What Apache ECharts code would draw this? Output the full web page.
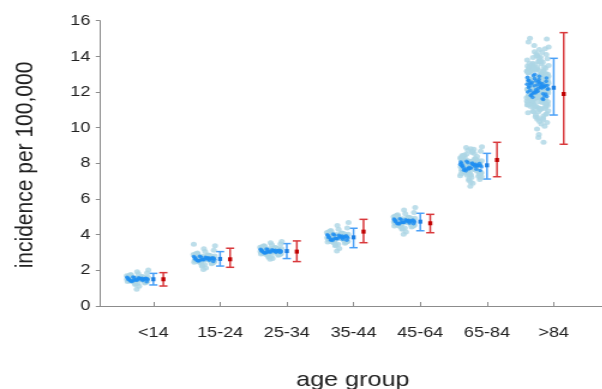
<!DOCTYPE html>
<html>
<head>
<meta charset="utf-8">
<script src="https://cdn.jsdelivr.net/npm/echarts@6/dist/echarts.min.js"></script>
<style>
  html, body { margin: 0; padding: 0; background: #fff; overflow: hidden; }
  /* drawn on a narrower canvas and widened, giving the wide-set lettering */
  #chart { width: 502px; height: 389px; transform: scaleX(1.2); transform-origin: 0 0; }
</style>
</head>
<body>
<div id="chart"></div>
<script>
// ---- data ----------------------------------------------------------------
const ageGroups = ['<14', '15-24', '25-34', '35-44', '45-64', '65-84', '>84'];
const yTicks = [0, 2, 4, 6, 8, 10, 12, 14, 16];

// simulated incidence draws (light) per age group
const simU14 = [1.52,1.38,1.61,1.47,1.73,1.29,1.55,1.44,1.66,1.50,1.35,1.81,1.58,1.42,1.21,1.69,1.49,1.57,1.33,1.92,1.46,1.62,1.53,1.40,1.11,1.76,1.48,1.59,1.37,1.64,1.45,1.54,1.27,1.71,1.51,1.43,2.02,1.60,1.39,1.56,0.94,1.67,1.47,1.34,1.85,1.53,1.41,1.63,1.25,1.50];
const sim15 = [2.66,2.48,2.81,2.59,2.92,2.37,2.70,2.55,2.86,2.63,2.44,3.05,2.74,2.52,2.25,2.89,2.61,2.77,2.41,3.21,2.57,2.83,2.68,2.50,2.13,2.97,2.64,2.79,2.46,2.85,2.58,2.72,2.33,2.94,2.67,2.53,3.38,2.80,2.49,2.75,2.04,2.88,2.60,2.43,3.12,2.69,2.51,2.82,2.29,3.47];
const sim25 = [3.10,2.94,3.23,3.02,3.33,2.84,3.14,2.98,3.28,3.07,2.90,3.44,3.17,2.96,2.74,3.30,3.05,3.20,2.87,3.55,3.00,3.25,3.11,2.93,2.66,3.38,3.08,3.21,2.91,3.27,3.01,3.15,2.80,3.35,3.09,2.97,3.62,3.22,2.92,3.18,2.62,3.29,3.04,2.88,3.48,3.12,2.95,3.24,2.77,3.06];
const sim35 = [3.87,3.66,4.03,3.78,4.15,3.52,3.91,3.72,4.09,3.84,3.60,4.31,3.96,3.69,3.38,4.12,3.81,3.99,3.57,4.52,3.75,4.06,3.89,3.63,3.22,4.24,3.85,4.01,3.59,4.08,3.77,3.94,3.46,4.19,3.86,3.70,4.68,4.02,3.61,3.97,3.08,4.14,3.80,3.55,4.38,3.90,3.67,4.05,3.42,3.83];
const sim45 = [4.76,4.57,4.92,4.68,5.03,4.43,4.80,4.62,4.98,4.73,4.50,5.18,4.85,4.59,4.30,5.01,4.71,4.88,4.47,5.38,4.65,4.95,4.78,4.54,4.15,5.12,4.74,4.90,4.49,4.97,4.67,4.83,4.37,5.07,4.75,4.60,5.52,4.91,4.52,4.86,4.02,5.03,4.70,4.45,5.24,4.79,4.56,4.94,4.33,4.72];
const sim65 = [7.87,7.52,8.15,7.70,8.36,7.28,7.93,7.61,8.27,7.83,7.44,8.61,8.02,7.56,7.05,8.31,7.78,8.08,7.38,8.82,7.66,8.20,7.90,7.49,6.88,8.47,7.85,8.11,7.41,8.24,7.74,7.98,7.21,8.40,7.88,7.58,8.93,8.13,7.46,8.05,6.72,8.33,7.76,7.33,8.68,7.95,7.54,8.18,7.14,7.81,8.55,7.63,7.99,7.35,8.22,7.68,8.74,7.25,8.09,7.80,
  7.91,7.47,8.29,7.66,8.52,7.19,7.97,7.59,8.38,7.79,7.31,8.79,8.06,7.53,6.95,8.44,7.72,8.16,7.43,8.66,7.84,8.01,7.37,8.25,7.64,8.89,7.10,8.12,7.57,7.93];
const sim85 = [12.21,11.62,12.88,11.95,13.31,11.07,12.43,11.78,13.05,12.12,11.34,13.72,12.60,11.55,10.62,13.18,12.01,12.71,11.21,14.05,11.85,12.95,12.33,11.46,10.35,13.48,12.18,12.80,11.28,13.02,11.90,12.52,10.88,13.40,12.25,11.70,14.52,12.92,11.40,12.66,9.93,13.25,12.05,11.15,13.86,12.47,11.58,12.99,10.71,12.15,
  13.58,11.82,12.58,11.12,13.12,11.98,14.26,10.95,12.76,12.09,
  12.38,11.66,13.09,11.88,13.44,10.79,12.55,11.73,13.21,12.27,11.49,13.95,12.70,11.60,10.48,13.36,12.03,12.84,11.25,14.38,11.93,12.97,12.40,11.43,10.21,13.62,12.19,12.63,11.31,13.15,11.99,12.49,10.99,13.51,12.31,11.76,14.80,12.86,11.37,12.74,9.62,13.28,12.11,11.18,13.79,12.45,11.52,13.03,10.57,12.23,
  13.67,11.80,12.61,11.09,13.17,11.96,14.15,10.84,12.79,12.07,
  14.98,9.45,15.02,9.18,12.35,11.68,12.90,11.87,13.33,12.14,
  12.56,11.41,13.27,12.02,13.89,11.19,12.68,11.87,13.46,12.29,10.92,14.11,12.81,11.63,10.44,13.54,12.13,12.94,11.33,14.43,11.91,13.07,12.48,11.51,10.29,13.70,12.36,12.87,11.24,13.16,12.04,12.62,10.76,13.38,12.44,11.79,14.61,13.00,11.45,12.72,
  10.08,13.23,12.17,11.06,13.93,12.53,11.69,13.11,10.66,12.26,13.49,11.84,12.64,11.16,13.29,12.06,14.22,10.90,12.83,12.19,11.57,13.41,12.39,11.27,13.76,12.00,12.91,11.72,13.60,10.53,12.50,11.94,13.19,12.32,11.38,14.02,12.77,11.61,13.35,12.10];

// point estimates (dark) per age group
const estU14 = [1.49,1.55,1.44,1.52,1.58,1.41,1.50,1.47,1.61,1.53,1.38,1.56,1.46,1.51,1.43,1.59,1.48,1.54,1.40,1.52,1.45,1.57,1.50,1.63,1.36];
const est15 = [2.64,2.70,2.58,2.67,2.73,2.55,2.65,2.61,2.77,2.68,2.52,2.71,2.60,2.66,2.57,2.75,2.62,2.69,2.54,2.67,2.59,2.72,2.63,2.79,2.50];
const est25 = [3.07,3.12,3.02,3.09,3.15,2.99,3.08,3.04,3.18,3.10,2.97,3.13,3.03,3.08,3.01,3.16,3.05,3.11,2.98,3.09,3.03,3.14,3.06,3.19,3.00];
const est35 = [3.84,3.92,3.76,3.87,3.97,3.70,3.85,3.80,4.00,3.89,3.67,3.94,3.78,3.86,3.74,3.98,3.81,3.90,3.72,3.88,3.77,3.95,3.83,4.03,3.69];
const est45 = [4.74,4.80,4.67,4.77,4.84,4.62,4.75,4.70,4.87,4.78,4.60,4.82,4.68,4.76,4.65,4.85,4.71,4.79,4.63,4.77,4.69,4.83,4.73,4.89,4.61];
const est65 = [7.84,7.95,7.70,7.88,8.02,7.62,7.86,7.78,8.07,7.91,7.58,7.99,7.74,7.87,7.67,8.04,7.80,7.93,7.64,7.89,7.72,8.00,7.82,8.12,7.60,7.97,7.76,7.85,7.69,7.94];
const est85 = [12.25,12.48,11.98,12.36,12.70,11.80,12.30,12.12,12.82,12.41,11.70,12.60,12.05,12.33,11.90,12.75,12.18,12.52,11.84,12.38,12.02,12.65,12.22,12.93,11.75,12.57,12.09,12.29,11.95,12.44,
  12.27,12.54,11.88,12.40,12.66,11.62,12.35,12.15,12.88,12.46,11.78,12.62,12.00,12.31,11.93,12.79,12.20,12.50,11.58,12.99];

// model interval (blue) and observed interval (red)
const modelMean = [1.50, 2.64, 3.08, 3.85, 4.73, 7.89, 12.24];
const modelLow  = [1.18, 2.24, 2.66, 3.27, 4.22, 7.12, 10.71];
const modelHigh = [1.83, 3.05, 3.50, 4.36, 5.20, 8.56, 13.89];
const obsMean = [1.50, 2.62, 3.05, 4.17, 4.64, 8.19, 11.89];
const obsLow  = [1.12, 2.17, 2.49, 3.55, 4.11, 7.25, 9.07];
const obsHigh = [1.87, 3.24, 3.65, 4.86, 5.14, 9.18, 15.33];

// ---- layout ----------------------------------------------------------------
const simGroups = [simU14, sim15, sim25, sim35, sim45, sim65, sim85];
const estGroups = [estU14, est15, est25, est35, est45, est65, est85];
const CLOUD_SHIFT = -0.24;   // cloud sits left of the category tick
const CLOUD_HALF = 0.165;    // half width of the jitter band
const OBS_SHIFT = 0.15;      // observed interval sits right of the tick

// even, repeatable spread across the jitter band
function spread(i, seed) {
  const f = ((i + 1) * 0.6180339887 + seed) % 1;
  return f * 2 - 1;
}
function cloud(groups, seed) {
  const pts = [];
  groups.forEach((vals, g) => {
    vals.forEach((v, i) => {
      pts.push([g + 1 + CLOUD_SHIFT + spread(i, seed) * CLOUD_HALF, v]);
    });
  });
  return pts;
}
function intervals(mean, lo, hi, shift) {
  return mean.map((m, g) => [g + 1 + shift, lo[g], hi[g], m]);
}
function intervalRenderer(lineColor, markColor) {
  return function (params, api) {
    const x = api.value(0);
    const top = api.coord([x, api.value(2)]);
    const bot = api.coord([x, api.value(1)]);
    const mid = api.coord([x, api.value(3)]);
    const cap = 3.4;
    const ls = { stroke: lineColor, lineWidth: 1.5 };
    return {
      type: 'group',
      children: [
        { type: 'line', shape: { x1: top[0], y1: top[1], x2: bot[0], y2: bot[1] }, style: ls },
        { type: 'line', shape: { x1: top[0] - cap, y1: top[1], x2: top[0] + cap, y2: top[1] }, style: ls },
        { type: 'line', shape: { x1: bot[0] - cap, y1: bot[1], x2: bot[0] + cap, y2: bot[1] }, style: ls },
        { type: 'rect', shape: { x: mid[0] - 1.7, y: mid[1] - 2, width: 3.4, height: 4 }, style: { fill: markColor } }
      ]
    };
  };
}

const FONT = '"Liberation Sans", Arial, Helvetica, sans-serif';
const chart = echarts.init(document.getElementById('chart'), null, { renderer: 'canvas' });

chart.setOption({
  animation: false,
  backgroundColor: '#fff',
  grid: { left: 83.3, right: 0, top: 20.7, bottom: 83, containLabel: false },
  xAxis: {
    type: 'value',
    min: 0.2,
    max: 7.73,
    offset: 12,
    splitLine: { show: false },
    axisLine: { show: true, lineStyle: { color: '#8c8c8c', width: 1 } },
    axisTick: {
      show: true, inside: true, length: 4,
      customValues: [1, 2, 3, 4, 5, 6, 7],
      lineStyle: { color: '#8c8c8c' }
    },
    axisLabel: {
      customValues: [1, 2, 3, 4, 5, 6, 7],
      formatter: v => ageGroups[Math.round(v) - 1],
      margin: 7,
      fontSize: 15,
      color: '#222',
      fontFamily: FONT
    }
  },
  yAxis: {
    type: 'value',
    min: 0,
    max: 16,
    interval: 2,
    splitLine: { show: false },
    axisLine: { show: true, lineStyle: { color: '#8c8c8c', width: 1 } },
    axisTick: { show: true, length: 3.5, lineStyle: { color: '#8c8c8c' } },
    axisLabel: {
      margin: 8,
      fontSize: 15,
      color: '#222',
      fontFamily: FONT,
      formatter: v => (yTicks.indexOf(v) >= 0 ? String(v) : '')
    }
  },
  graphic: [
    {
      type: 'text',
      x: 20.8, y: 165,
      rotation: Math.PI / 2,
      style: {
        text: 'incidence per 100,000',
        fontSize: 21,
        fontFamily: FONT,
        fill: '#222',
        align: 'center',
        verticalAlign: 'middle'
      }
    },
    {
      type: 'text',
      x: 294, y: 380,
      style: {
        text: 'age group',
        fontSize: 21,
        fontFamily: FONT,
        fill: '#222',
        align: 'center',
        verticalAlign: 'middle'
      }
    }
  ],
  series: [
    {
      type: 'scatter',
      data: cloud(simGroups, 0.13),
      symbol: 'circle',
      symbolSize: 5,
      itemStyle: { color: '#acd6e5' },
      silent: true
    },
    {
      type: 'scatter',
      data: cloud(estGroups, 0.47),
      symbol: 'circle',
      symbolSize: 3.6,
      itemStyle: { color: '#1f8ef1' },
      silent: true
    },
    {
      type: 'custom',
      data: intervals(modelMean, modelLow, modelHigh, 0),
      renderItem: intervalRenderer('#4aa0f7', '#1b7ee3'),
      silent: true
    },
    {
      type: 'custom',
      data: intervals(obsMean, obsLow, obsHigh, OBS_SHIFT),
      renderItem: intervalRenderer('#d9393c', '#c00000'),
      silent: true
    }
  ]
});
</script>
</body>
</html>
